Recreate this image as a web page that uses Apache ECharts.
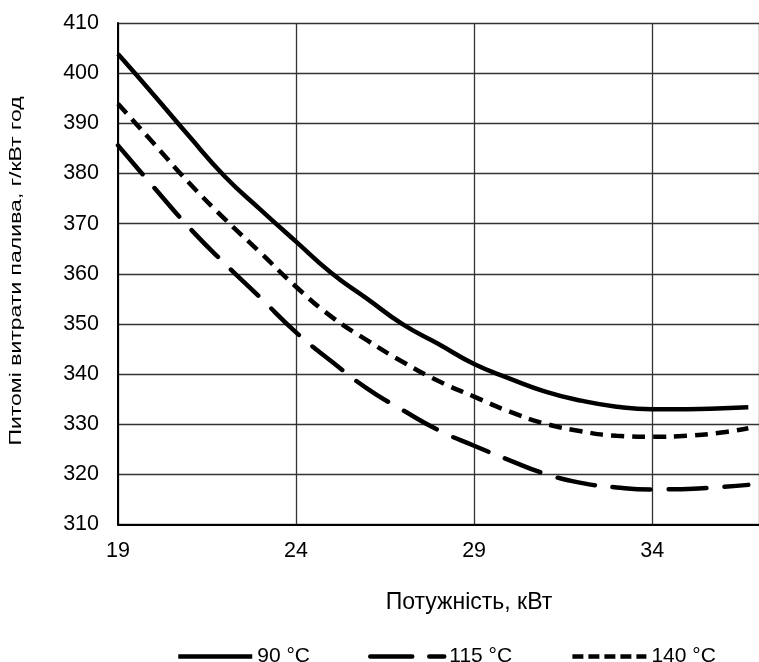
<!DOCTYPE html>
<html>
<head>
<meta charset="utf-8">
<script src="https://cdn.jsdelivr.net/npm/echarts@6/dist/echarts.min.js"></script>
<style>
html,body{margin:0;padding:0;background:#fff;}
#chart{width:759px;height:662px;}
</style>
</head>
<body>
<div id="chart"></div>
<script>
const xValues = [19, 20, 21, 22, 23, 24, 25, 26, 27, 28, 29, 30, 31, 32, 33, 34, 35, 36, 36.7];
const s90  = [403.8, 395.7, 387.4, 379.4, 372.8, 366.4, 360.1, 355.0, 349.9, 346.0, 342.0, 339.1, 336.5, 334.7, 333.5, 333.0, 333.0, 333.2, 333.4];
const s115 = [385.6, 377.3, 369.2, 362.0, 355.2, 348.3, 342.5, 337.1, 332.8, 328.8, 325.7, 322.8, 320.1, 318.3, 317.4, 317.0, 317.1, 317.5, 317.9];
const s140 = [393.9, 386.0, 378.1, 370.9, 364.2, 357.4, 351.4, 346.7, 342.4, 338.6, 335.5, 332.5, 330.1, 328.6, 327.7, 327.5, 327.7, 328.4, 329.2];
const seriesNames = ['90 °C', '115 °C', '140 °C'];
const xTitle = 'Потужність, кВт';
const yTitle = 'Питомі витрати палива, г/кВт год';

const FONT = '"Liberation Sans", Arial, sans-serif';
const pairs = ys => xValues.map((x, i) => [x, ys[i]]);

const chart = echarts.init(document.getElementById('chart'), null, {renderer: 'canvas'});
chart.setOption({
  animation: false,
  backgroundColor: '#fff',
  grid: {left: 118, top: 23, right: -8, bottom: 137.5, containLabel: false},
  xAxis: {
    type: 'value', min: 19, max: 37, interval: 5,
    axisLine: {show: true, lineStyle: {color: '#000', width: 2}},
    axisTick: {show: false},
    axisLabel: {color: '#000', fontSize: 21.5, fontFamily: FONT, margin: 16, showMaxLabel: false},
    splitLine: {show: true, lineStyle: {color: '#333', width: 1.3}}
  },
  yAxis: {
    type: 'value', min: 310, max: 410, interval: 10,
    axisLine: {show: true, lineStyle: {color: '#000', width: 2}},
    axisTick: {show: false},
    axisLabel: {color: '#000', fontSize: 21.5, fontFamily: FONT, margin: 19},
    splitLine: {show: true, lineStyle: {color: '#333', width: 1.3}}
  },
  legend: {
    left: 171, top: 641,
    itemWidth: 74, itemHeight: 14, itemGap: 58,
    itemStyle: {opacity: 0},
    lineStyle: {width: 4.5, color: '#000'},
    textStyle: {color: '#000', fontSize: 21, fontFamily: FONT},
    data: [
      {name: seriesNames[0]},
      {name: seriesNames[1], lineStyle: {type: [42, 17], width: 4.5}},
      {name: seriesNames[2], lineStyle: {type: [11, 5], width: 4.5}}
    ]
  },
  graphic: [
    {type: 'text', x: 469, y: 603,
     style: {text: xTitle, fill: '#000', font: '23px ' + FONT, align: 'center', verticalAlign: 'middle'}},
    {type: 'text', x: 17, y: 271, rotation: Math.PI / 2, scaleX: 1, scaleY: 0.7,
     style: {text: yTitle, fill: '#000', font: '23px ' + FONT, align: 'center', verticalAlign: 'middle'}}
  ],
  series: [
    {name: seriesNames[0], type: 'line', data: pairs(s90), smooth: true, symbol: 'none',
     lineStyle: {color: '#000', width: 4.5, type: 'solid'}, itemStyle: {color: '#000'}},
    {name: seriesNames[1], type: 'line', data: pairs(s115), smooth: true, symbol: 'none',
     lineStyle: {color: '#000', width: 4.5, type: [38, 18], cap: 'round'}, itemStyle: {color: '#000'}},
    {name: seriesNames[2], type: 'line', data: pairs(s140), smooth: true, symbol: 'none',
     lineStyle: {color: '#000', width: 4.5, type: [13, 8]}, itemStyle: {color: '#000'}}
  ]
});
</script>
</body>
</html>
